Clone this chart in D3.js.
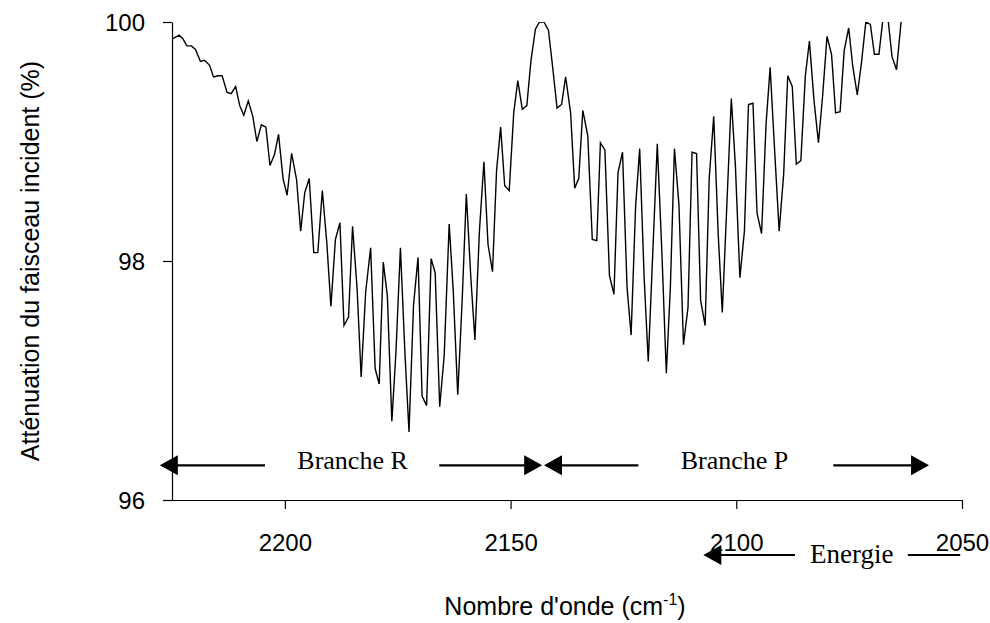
<!DOCTYPE html>
<html>
<head>
<meta charset="utf-8">
<script src="https://cdn.jsdelivr.net/npm/d3@7"></script>
<style>
  html, body { margin: 0; padding: 0; background: #fff; }
  svg { display: block; }
</style>
</head>
<body>
<svg id="chart" width="990" height="623"></svg>
<script>
const wavenumbers = [
  2224.8, 2223.4, 2222.6, 2221.7, 2220.7, 2219.8, 2218.7, 2217.8, 2216.7, 2215.8,
  2214.8, 2213.9, 2212.8, 2211.9, 2210.9, 2210.0, 2209.1, 2208.1, 2207.1, 2206.2,
  2205.2, 2204.2, 2203.3, 2202.3, 2201.4, 2200.4, 2199.5, 2198.5, 2197.4, 2196.5,
  2195.6, 2194.6, 2193.6, 2192.7, 2191.7, 2190.7, 2189.8, 2188.8, 2187.8, 2186.9,
  2185.9, 2185.0, 2184.0, 2183.1, 2182.1, 2181.0, 2180.0, 2179.1, 2178.2, 2177.3,
  2176.3, 2175.4, 2174.4, 2173.4, 2172.5, 2171.5, 2170.5, 2169.6, 2168.6, 2167.6,
  2166.7, 2165.7, 2164.7, 2163.6, 2162.7, 2161.7, 2160.7, 2159.8, 2158.8, 2157.9,
  2156.9, 2155.9, 2155.0, 2154.0, 2153.1, 2152.2, 2151.3, 2150.3, 2149.3, 2148.4,
  2147.4, 2146.4, 2145.5, 2144.5, 2143.6, 2142.6, 2141.6, 2140.7, 2139.7, 2138.7,
  2137.8, 2136.7, 2135.8, 2134.9, 2134.0, 2132.9, 2131.9, 2130.9, 2130.1, 2129.1,
  2128.1, 2127.1, 2126.2, 2125.2, 2124.2, 2123.3, 2122.3, 2121.4, 2120.4, 2119.5,
  2118.4, 2117.5, 2116.5, 2115.5, 2114.6, 2113.7, 2112.7, 2111.7, 2110.7, 2109.8,
  2108.8, 2107.9, 2106.9, 2106.0, 2105.0, 2104.0, 2103.1, 2102.1, 2101.1, 2100.2,
  2099.2, 2098.2, 2097.3, 2096.3, 2095.4, 2094.4, 2093.4, 2092.5, 2091.5, 2090.5,
  2089.5, 2088.6, 2087.6, 2086.7, 2085.7, 2084.7, 2083.8, 2082.8, 2081.8, 2080.9,
  2079.9, 2078.9, 2078.0, 2077.0, 2076.1, 2075.1, 2074.2, 2073.2, 2072.3, 2071.3,
  2070.3, 2069.4, 2068.4, 2067.5, 2066.4, 2065.5, 2064.5, 2063.5
];
// Attenuation of the incident beam (%)
const attenuation = [
  99.86, 99.89, 99.86, 99.80, 99.80, 99.77, 99.67, 99.68, 99.64, 99.54,
  99.55, 99.55, 99.41, 99.40, 99.46, 99.30, 99.22, 99.34, 99.21, 99.00,
  99.14, 99.12, 98.80, 98.89, 99.06, 98.69, 98.55, 98.90, 98.68, 98.25,
  98.57, 98.69, 98.07, 98.07, 98.59, 98.15, 97.62, 98.18, 98.32, 97.46,
  97.53, 98.29, 97.77, 97.03, 97.74, 98.11, 97.10, 96.97, 97.99, 97.71,
  96.66, 97.23, 98.11, 97.23, 96.57, 97.63, 98.03, 96.87, 96.79, 98.02,
  97.90, 96.78, 97.21, 98.31, 97.75, 96.88, 97.69, 98.56, 97.86, 97.34,
  98.25, 98.83, 98.14, 97.91, 98.76, 99.12, 98.63, 98.59, 99.24, 99.51,
  99.27, 99.30, 99.67, 99.94, 100.00, 100.00, 99.93, 99.63, 99.28, 99.31,
  99.54, 99.24, 98.61, 98.69, 99.26, 99.05, 98.18, 98.17, 98.99, 98.93,
  97.88, 97.72, 98.74, 98.91, 97.78, 97.38, 98.46, 98.94, 97.85, 97.16,
  98.16, 98.98, 98.09, 97.06, 97.78, 98.94, 98.47, 97.30, 97.61, 98.91,
  98.90, 97.67, 97.46, 98.69, 99.21, 98.22, 97.57, 98.46, 99.36, 98.80,
  97.86, 98.25, 99.31, 99.32, 98.40, 98.23, 99.15, 99.62, 98.92, 98.25,
  98.73, 99.55, 99.46, 98.81, 98.84, 99.55, 99.84, 99.35, 98.99, 99.37,
  99.88, 99.73, 99.24, 99.25, 99.76, 99.95, 99.63, 99.39, 99.65, 100.00,
  99.98, 99.73, 99.73, 100.03, 100.03, 99.71, 99.60, 100.00
];
const xTicks = [2200, 2150, 2100, 2050];
const yTicks = [96, 98, 100];
const branchLabels = ["Branche R", "Branche P"];
const energyLabel = "Energie";
const xTitle = "Nombre d'onde (cm";
const yTitle = "Atténuation du faisceau incident (%)";

const svg = d3.select("#chart");
const mLeft = 172, mRight = 962, mTop = 22, mBottom = 500;

const x = d3.scaleLinear().domain([2225, 2050]).range([mLeft, mRight]);
const y = d3.scaleLinear().domain([96, 100]).range([mBottom, mTop]);

const sans = "'Liberation Sans', Arial, Helvetica, sans-serif";
const serif = "'Liberation Serif', 'Times New Roman', serif";

// clip for the curve
svg.append("defs").append("clipPath").attr("id", "plotclip")
  .append("rect").attr("x", mLeft).attr("y", mTop).attr("width", mRight - mLeft).attr("height", mBottom - mTop);

// Axes
const xAxis = d3.axisBottom(x).tickValues(xTicks).tickSize(9).tickSizeOuter(0).tickFormat(d3.format("d"));
const gx = svg.append("g").attr("transform", `translate(0,${mBottom})`).call(xAxis);
gx.select(".domain").attr("d", `M${mLeft - 9},0.5H${mRight}`);
gx.selectAll("line").attr("stroke", "#000").attr("stroke-width", 1.2);
gx.selectAll(".domain").attr("stroke", "#000").attr("stroke-width", 1.2);
gx.selectAll("text").attr("font-family", sans).attr("font-size", 24).attr("fill", "#000").attr("dy", null).attr("y", 51);

const yAxis = d3.axisLeft(y).tickValues(yTicks).tickSize(9).tickSizeOuter(0).tickFormat(d3.format("d"));
const gy = svg.append("g").attr("transform", `translate(${mLeft},0)`).call(yAxis);
gy.selectAll("line").attr("stroke", "#000").attr("stroke-width", 1.2);
gy.selectAll(".domain").attr("stroke", "#000").attr("stroke-width", 1.2);
gy.selectAll("text").attr("font-family", sans).attr("font-size", 24).attr("fill", "#000").attr("x", -27).attr("dy", "0.35em");

// Curve
const pts = wavenumbers.map((w, i) => [w, attenuation[i]]);
svg.append("path")
  .datum(pts)
  .attr("clip-path", "url(#plotclip)")
  .attr("fill", "none")
  .attr("stroke", "#000")
  .attr("stroke-width", 1.4)
  .attr("stroke-linejoin", "miter")
  .attr("d", d3.line().x(d => x(d[0])).y(d => y(d[1])));

// Arrow helper
function arrowHead(px, py, dir) {
  const L = 18, H = 10;
  svg.append("path")
    .attr("d", `M${px},${py}L${px - dir * L},${py - H}L${px - dir * L},${py + H}Z`)
    .attr("fill", "#000");
}
function hline(x1, x2, py) {
  svg.append("line").attr("x1", x1).attr("x2", x2).attr("y1", py).attr("y2", py)
    .attr("stroke", "#000").attr("stroke-width", 2.2);
}

const arrowY = y(96.29);
// Branche R
arrowHead(x(2227.7), arrowY, -1);
hline(x(2227.7) + 10, x(2204.4), arrowY);
hline(x(2165.8), x(2143.0) - 10, arrowY);
arrowHead(x(2143.0), arrowY, 1);
svg.append("text").attr("x", x(2185.0)).attr("y", arrowY + 4).attr("text-anchor", "middle")
  .attr("font-family", serif).attr("font-size", 26).text(branchLabels[0]);
// Branche P
arrowHead(x(2142.6), arrowY, -1);
hline(x(2142.6) + 10, x(2121.7), arrowY);
hline(x(2078.5), x(2057.3) - 10, arrowY);
arrowHead(x(2057.3), arrowY, 1);
svg.append("text").attr("x", x(2100.4)).attr("y", arrowY + 4).attr("text-anchor", "middle")
  .attr("font-family", serif).attr("font-size", 26).text(branchLabels[1]);

// Energie arrow (below axis)
const eY = 555;
arrowHead(x(2107.3), eY, -1);
hline(x(2107.3) + 10, x(2087.0), eY);
hline(x(2062.0), x(2050.4), eY);
svg.append("text").attr("x", x(2074.4)).attr("y", eY + 8).attr("text-anchor", "middle")
  .attr("font-family", serif).attr("font-size", 27).text(energyLabel);

// Axis titles
const xt = svg.append("text").attr("x", (mLeft + mRight) / 2 - 2).attr("y", 615).attr("text-anchor", "middle")
  .attr("font-family", sans).attr("font-size", 25).attr("fill", "#000");
xt.append("tspan").text(xTitle);
xt.append("tspan").attr("font-size", 16).attr("dy", -10).text("-1");
xt.append("tspan").attr("dy", 10).text(")");

svg.append("text")
  .attr("transform", `translate(39,${(mTop + mBottom) / 2}) rotate(-90)`)
  .attr("text-anchor", "middle")
  .attr("font-family", sans).attr("font-size", 25).attr("fill", "#000")
  .text(yTitle);
</script>
</body>
</html>
